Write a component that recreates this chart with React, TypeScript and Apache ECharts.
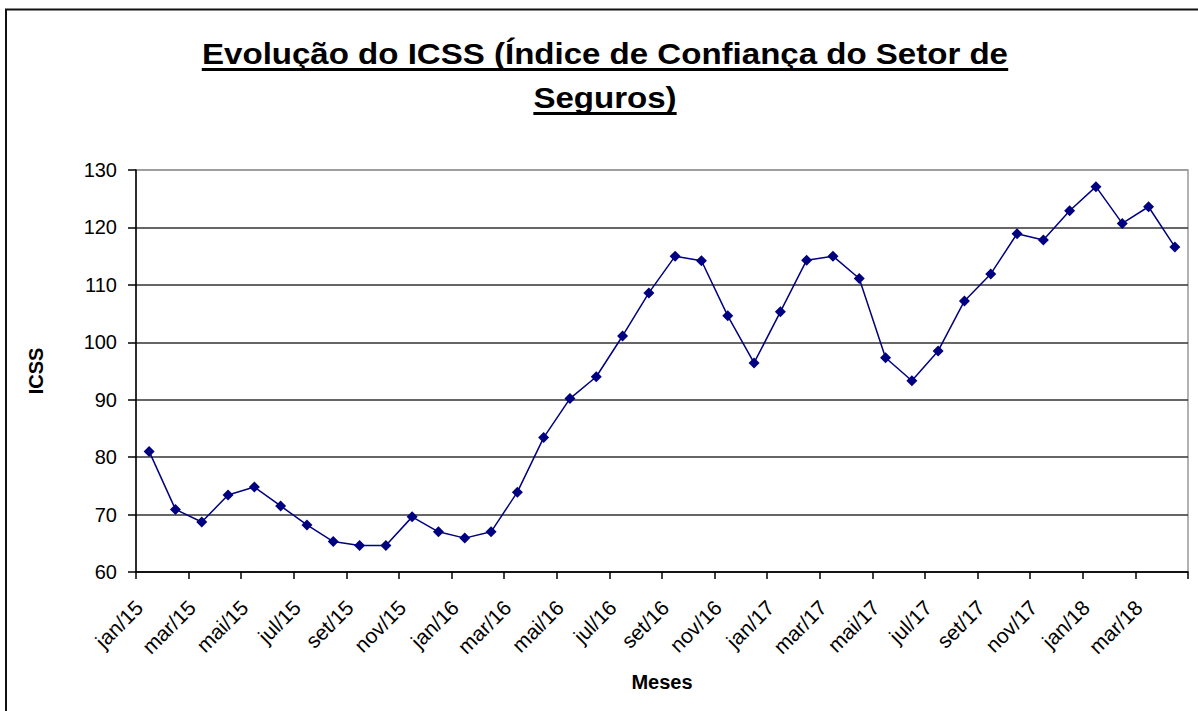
import React, { useEffect, useRef } from "react";
import * as echarts from "echarts";

const categories: string[] = [
  "jan/15", "fev/15", "mar/15", "abr/15", "mai/15", "jun/15", "jul/15", "ago/15", "set/15", "out/15", "nov/15", "dez/15",
  "jan/16", "fev/16", "mar/16", "abr/16", "mai/16", "jun/16", "jul/16", "ago/16", "set/16", "out/16", "nov/16", "dez/16",
  "jan/17", "fev/17", "mar/17", "abr/17", "mai/17", "jun/17", "jul/17", "ago/17", "set/17", "out/17", "nov/17", "dez/17",
  "jan/18", "fev/18", "mar/18", "abr/18",
];

const icssValues: number[] = [
  81.0, 70.9, 68.7, 73.4, 74.8, 71.5, 68.2, 65.3, 64.6, 64.6, 69.6, 67.0,
  65.9, 67.0, 73.9, 83.4, 90.2, 94.0, 101.1, 108.6, 115.0, 114.2, 104.6, 96.4,
  105.3, 114.3, 115.0, 111.1, 97.3, 93.3, 98.5, 107.2, 111.9, 118.9, 117.8, 122.9,
  127.1, 120.7, 123.6, 116.6,
];

const titleLines: string[] = [
  "Evolução do ICSS (Índice de Confiança do Setor de",
  "Seguros)",
];

const seriesName = "ICSS";
const xAxisTitle = "Meses";
const yAxisTitle = "ICSS";

const FONT = "'Liberation Sans', Arial, Helvetica, sans-serif";

function measure(text: string, font: string): number {
  const c = document.createElement("canvas");
  const ctx = c.getContext("2d");
  if (!ctx) return text.length * 15;
  ctx.font = font;
  return ctx.measureText(text).width;
}

export default function App() {
  const ref = useRef<HTMLDivElement>(null);
  useEffect(() => {
    if (!ref.current) return;
    const chart = echarts.init(ref.current, undefined, { renderer: "svg" });
    const titleSize = 29;
    const titleScaleX = 1.14;
    const titleFont = `bold ${titleSize}px 'Liberation Sans', Arial`;
    const cx = 605;
    const baselines = [64, 108];
    const graphics: any[] = [
      {
        type: "rect",
        shape: { x: 6, y: 9.5, width: 1220, height: 720 },
        style: { fill: "none", stroke: "#111", lineWidth: 2 },
        silent: true,
      },
    ];
    titleLines.forEach((t, i) => {
      const w = measure(t, titleFont) * titleScaleX;
      graphics.push({
        type: "text",
        x: cx,
        y: baselines[i] - titleSize * 0.34,
        scaleX: titleScaleX,
        style: {
          text: t,
          font: titleFont,
          fontFamily: FONT,
          fontWeight: "bold",
          fontSize: titleSize,
          fill: "#000",
          textAlign: "center",
          textVerticalAlign: "middle",
        },
      });
      graphics.push({
        type: "rect",
        shape: { x: cx - w / 2, y: baselines[i] + 4, width: w, height: 3 },
        style: { fill: "#000" },
      });
    });

    chart.setOption({
      animation: false,
      backgroundColor: "#fff",
      textStyle: { fontFamily: FONT },
      grid: {
        left: 136,
        right: 10,
        top: 170,
        bottom: 139,
        show: true,
        borderColor: "#999",
        borderWidth: 1.5,
        backgroundColor: "transparent",
      },
      graphic: graphics,
      xAxis: {
        type: "category",
        data: categories,
        boundaryGap: true,
        name: xAxisTitle,
        nameLocation: "middle",
        nameGap: 100,
        nameTextStyle: { fontSize: 20, fontWeight: "bold", color: "#000", fontFamily: FONT },
        axisLine: { lineStyle: { color: "#000", width: 1.5 } },
        axisTick: { show: true, interval: 1, length: 7, inside: false, lineStyle: { color: "#000", width: 1.5 } },
        axisLabel: {
          interval: 1,
          rotate: 45,
          fontSize: 21,
          color: "#000",
          margin: 22,
          padding: [0, 14, 0, 0],
          fontFamily: FONT,
        },
        splitLine: { show: false },
      },
      yAxis: {
        type: "value",
        min: 60,
        max: 130,
        interval: 10,
        name: yAxisTitle,
        nameLocation: "middle",
        nameGap: 90,
        nameRotate: 90,
        nameTextStyle: { fontSize: 20, fontWeight: "bold", color: "#000", fontFamily: FONT },
        axisLine: { show: true, lineStyle: { color: "#000", width: 1.5 } },
        axisTick: { show: true, length: 8, lineStyle: { color: "#000", width: 1.5 } },
        axisLabel: { fontSize: 20, color: "#000", margin: 19, fontFamily: FONT },
        splitLine: {
          show: true,
          lineStyle: {
            color: ["#333", "#333", "#333", "#333", "#333", "#333", "#333", "#999"],
            width: 1.5,
          },
        },
      },
      series: [
        {
          name: seriesName,
          type: "line",
          data: icssValues,
          symbol: "diamond",
          symbolSize: 11,
          showSymbol: true,
          itemStyle: { color: "#000080" },
          lineStyle: { color: "#000080", width: 1.5 },
        },
      ],
    });
    return () => chart.dispose();
  }, []);
  return (
    <div
      ref={ref}
      style={{ position: "fixed", left: 0, top: 0, width: 1198, height: 711, background: "#fff" }}
    />
  );
}
